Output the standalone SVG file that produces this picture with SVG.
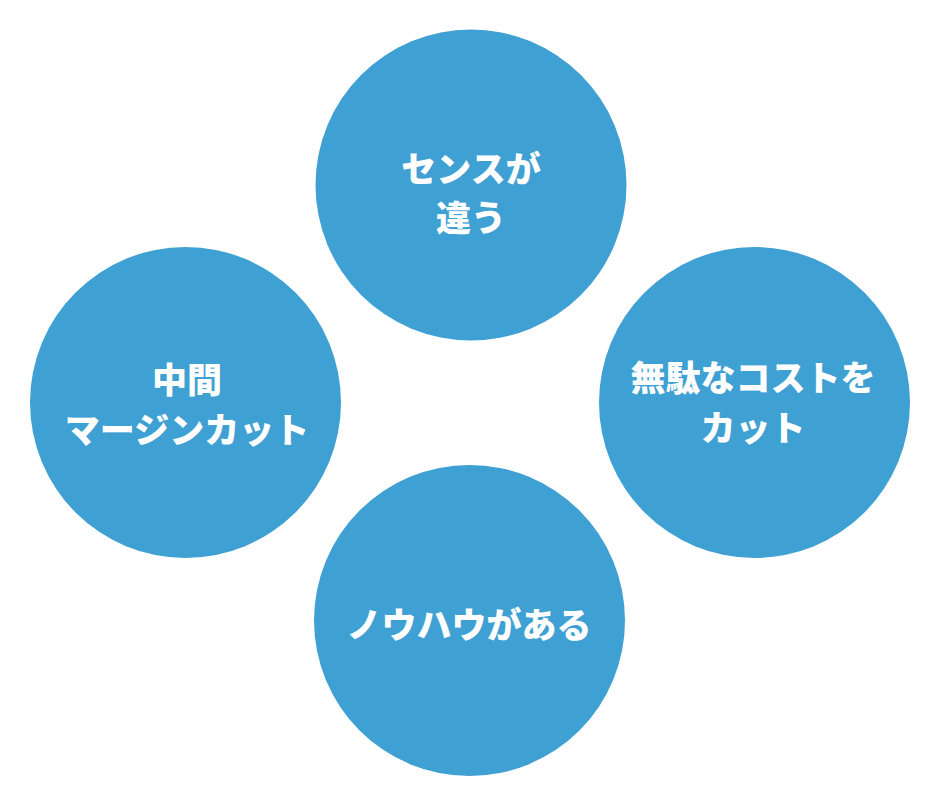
<svg xmlns="http://www.w3.org/2000/svg" width="940" height="811" viewBox="0 0 940 811">
<style>
.c{fill:#3fa0d3}
.t{fill:#ffffff;font-family:"Noto Sans CJK JP","Noto Sans",sans-serif;font-weight:900;font-size:35px;text-anchor:middle}
</style>
<rect width="940" height="811" fill="#ffffff"/>
<g id="node-top">
<circle class="c" cx="471" cy="185" r="155.5"/>
<text class="t" x="471" y="182">センスが</text>
<text class="t" x="471" y="231">違う</text>
</g>
<g id="node-left">
<circle class="c" cx="185.5" cy="402.5" r="155.5"/>
<text class="t" x="187" y="393">中間</text>
<text class="t" x="187" y="443">マージンカット</text>
</g>
<g id="node-right">
<circle class="c" cx="754.5" cy="402.5" r="155.5"/>
<text class="t" x="753" y="391">無駄なコストを</text>
<text class="t" x="753" y="441">カット</text>
</g>
<g id="node-bottom">
<circle class="c" cx="469.5" cy="620.5" r="155.5"/>
<text class="t" x="469" y="638">ノウハウがある</text>
</g>
<g id="connectors"></g>
</svg>
